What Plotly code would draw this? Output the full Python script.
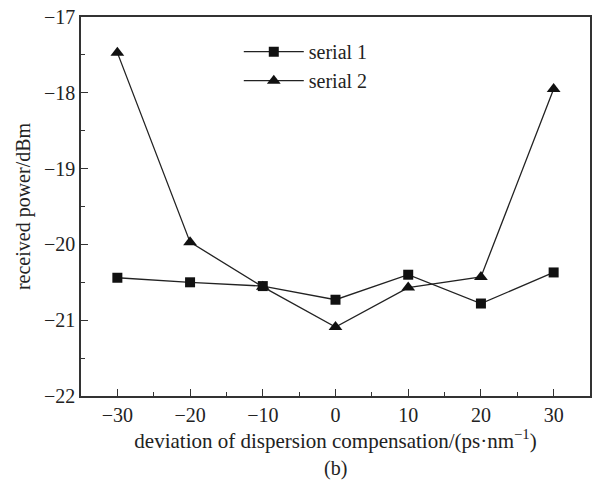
import plotly.graph_objects as go

x_vals = [-30, -20, -10, 0, 10, 20, 30]
serial1 = [-20.44, -20.50, -20.55, -20.73, -20.40, -20.78, -20.37]
serial2 = [-17.47, -19.97, -20.56, -21.09, -20.57, -20.43, -17.95]
x_ticks = [-30, -20, -10, 0, 10, 20, 30]
y_ticks = [-22, -21, -20, -19, -18, -17]
y_labels = ["\u221222", "\u221221", "\u221220", "\u221219", "\u221218", "\u221217"]
x_labels = ["\u221230", "\u221220", "\u221210", "0", "10", "20", "30"]

fig = go.Figure()
fig.add_trace(go.Scatter(x=x_vals, y=serial1, mode="lines+markers", name="serial 1",
                         line=dict(color="#222", width=1.3),
                         marker=dict(symbol="square", size=10, color="#111")))
fig.add_trace(go.Scatter(x=x_vals, y=serial2, mode="lines+markers", name="serial 2",
                         line=dict(color="#222", width=1.3),
                         marker=dict(symbol="triangle-up", size=12, color="#111")))

font = "Liberation Serif, Times New Roman, serif"
fig.update_layout(
    width=595, height=488,
    margin=dict(l=81, r=3, t=17, b=92),
    paper_bgcolor="white", plot_bgcolor="white",
    font=dict(family=font, size=20, color="#222"),
    showlegend=True,
    legend=dict(x=0.31, y=0.96, xanchor="left", yanchor="top",
                bgcolor="rgba(0,0,0,0)", font=dict(size=20, family=font),
                itemwidth=60, tracegroupgap=2),
    xaxis=dict(range=[-35, 35], tickvals=x_ticks, ticktext=x_labels,
               ticks="inside", ticklen=7, tickwidth=1.3, tickcolor="#333",
               showline=True, linecolor="#333", linewidth=1.5, mirror=True,
               showgrid=False, zeroline=False,
               minor=dict(ticks="inside", ticklen=4, dtick=5, tickcolor="#333", showgrid=False),
               title=dict(text="deviation of dispersion compensation/(ps\u00b7nm<sup>\u22121</sup>)",
                          font=dict(size=21), standoff=6)),
    yaxis=dict(range=[-22, -17], tickvals=y_ticks, ticktext=y_labels,
               ticks="inside", ticklen=7, tickwidth=1.3, tickcolor="#333",
               showline=True, linecolor="#333", linewidth=1.5, mirror=True,
               showgrid=False, zeroline=False,
               minor=dict(ticks="inside", ticklen=4, dtick=0.5, tickcolor="#333", showgrid=False),
               title=dict(text="received power/dBm", font=dict(size=20), standoff=8)),
)
fig.add_annotation(text="(b)", xref="paper", yref="paper", x=0.5, y=-0.19,
                   showarrow=False, font=dict(size=20, family=font), yanchor="middle")
fig.write_html("out.html")
